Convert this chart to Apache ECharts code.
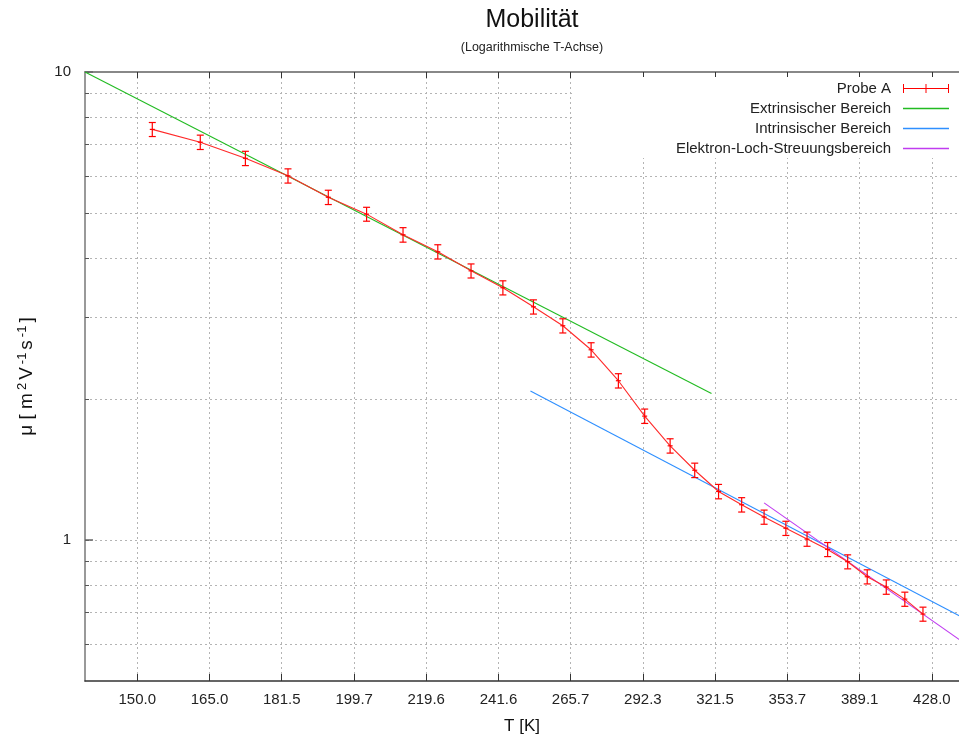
<!DOCTYPE html>
<html>
<head>
<meta charset="utf-8">
<title>Mobilität</title>
<script src="https://cdn.jsdelivr.net/npm/echarts@6/dist/echarts.min.js"></script>
<style>
  html, body { margin: 0; padding: 0; background: #fff; overflow: hidden; }
  #chart { width: 959px; height: 740px; }
</style>
</head>
<body>
<div id="chart"></div>
<script>
// Temperatur der Messpunkte [K]
const temperatures = [153, 163, 173, 183, 193, 203, 213, 223, 233, 243,
                      253, 263, 273, 283, 293, 303, 313, 323, 333, 343,
                      353, 363, 373, 383, 393, 403, 413, 423];
// Beweglichkeit Probe A [m^2 V^-1 s^-1]
const mobility = [7.54, 7.08, 6.54, 6.00, 5.40, 4.97, 4.49, 4.13, 3.76, 3.46,
                  3.15, 2.87, 2.55, 2.19, 1.84, 1.59, 1.41, 1.27, 1.19, 1.12,
                  1.06, 1.005, 0.955, 0.899, 0.835, 0.794, 0.748, 0.695];
// Fehler der Beweglichkeit
const mobilityErr = [0.26, 0.25, 0.23, 0.21, 0.19, 0.17, 0.16, 0.145, 0.13, 0.12,
                     0.11, 0.10, 0.09, 0.077, 0.065, 0.056, 0.05, 0.045, 0.042, 0.039,
                     0.037, 0.035, 0.033, 0.031, 0.029, 0.028, 0.026, 0.024];
// Angepasste Geraden (Potenzgesetze) als Endpunkte [T, mu]
const extrinsicFit = [[140, 10], [320, 2.056]];
const intrinsicFit = [[252, 2.082], [450, 0.671]];
const scatteringFit = [[343, 1.201], [450, 0.591]];
// Achsenbeschriftung
const xTicks = [150.0, 165.0, 181.5, 199.7, 219.6, 241.6, 265.7, 292.3, 321.5, 353.7, 389.1, 428.0];
const yGridTicks = [0.6, 0.7, 0.8, 0.9, 1, 2, 3, 4, 5, 6, 7, 8, 9, 10];
const yLabelTicks = [1, 10];

const X_MIN = 140, X_MAX = 443.6, Y_MIN = 0.5, Y_MAX = 10;
const FONT = '"Liberation Sans", Arial, sans-serif';
const RED = '#ff0000';

const sampleLine = temperatures.map((t, i) => [t, mobility[i]]);
const sampleErr = temperatures.map((t, i) => [t, mobility[i], mobilityErr[i]]);

function renderErrorBar(params, api) {
  const t = api.value(0), m = api.value(1), e = api.value(2);
  const top = api.coord([t, m + e]);
  const bot = api.coord([t, m - e]);
  const mid = api.coord([t, m]);
  const cap = 3.5, tick = 2.5;
  const style = { stroke: RED, lineWidth: 1.2 };
  const seg = (x1, y1, x2, y2) => ({ type: 'line', shape: { x1, y1, x2, y2 }, style });
  return {
    type: 'group',
    children: [
      seg(top[0], top[1], bot[0], bot[1]),
      seg(top[0] - cap, top[1], top[0] + cap, top[1]),
      seg(bot[0] - cap, bot[1], bot[0] + cap, bot[1]),
      seg(mid[0] - tick, mid[1], mid[0] + tick, mid[1])
    ]
  };
}

const chart = echarts.init(document.getElementById('chart'), null, { renderer: 'canvas', width: 959, height: 740 });

const option = {
  backgroundColor: '#ffffff',
  animation: false,
  textStyle: { fontFamily: FONT },
  title: {
    text: 'Mobilität',
    subtext: '(Logarithmische T-Achse)',
    left: 527,
    top: 3,
    textAlign: 'center',
    itemGap: 8,
    textStyle: { fontSize: 25, fontWeight: 'normal', color: '#111', fontFamily: FONT },
    subtextStyle: { fontSize: 12.5, color: '#222', fontFamily: FONT }
  },
  legend: {
    orient: 'vertical',
    right: 0,
    top: 77,
    align: 'right',
    itemWidth: 46,
    itemHeight: 9,
    itemGap: 5,
    padding: [4, 10, 2, 102],
    backgroundColor: '#ffffff',
    textStyle: { fontSize: 15, color: '#222', fontFamily: FONT, lineHeight: 14, padding: [0, 7, 0, 0] },
    data: [
      { name: 'Probe A', icon: 'path://M0,0h1v9h-1z M22.5,0h1v9h-1z M45,0h1v9h-1z M0,4h46v1h-46z' },
      { name: 'Extrinsischer Bereich', icon: 'path://M0,0h46v1.4h-46z' },
      { name: 'Intrinsischer Bereich', icon: 'path://M0,0h46v1.4h-46z' },
      { name: 'Elektron-Loch-Streuungsbereich', icon: 'path://M0,0h46v1.4h-46z' }
    ]
  },
  grid: { left: 85, right: 0, top: 72, height: 609, containLabel: false },
  xAxis: [
    {
      type: 'log', logBase: 10, min: X_MIN, max: X_MAX, position: 'bottom',
      name: 'T [K]', nameLocation: 'middle', nameGap: 37,
      nameTextStyle: { fontSize: 17, color: '#111', fontFamily: FONT },
      axisLine: { show: true, onZero: false, lineStyle: { color: '#333', width: 1.5 } },
      axisTick: { show: true, inside: true, length: 7, customValues: xTicks, lineStyle: { color: '#333', width: 1 } },
      axisLabel: {
        show: true, margin: 11, fontSize: 15, color: '#222', fontFamily: FONT,
        customValues: xTicks,
        formatter: v => Number(v).toFixed(1)
      },
      splitLine: { show: true, lineStyle: { color: '#b4b4b4', type: [2, 3], width: 1 } },
      minorTick: { show: false }
    },
    {
      type: 'log', logBase: 10, min: X_MIN, max: X_MAX, position: 'top',
      axisLine: { show: true, onZero: false, lineStyle: { color: '#888', width: 2 } },
      axisTick: { show: true, inside: true, length: 6, customValues: xTicks, lineStyle: { color: '#333', width: 1 } },
      axisLabel: { show: false },
      splitLine: { show: false }
    }
  ],
  yAxis: [
    {
      type: 'log', logBase: 10, min: Y_MIN, max: Y_MAX, position: 'left',
      name: '{t|μ [ m}{s|2}{t|V}{s|-1}{t|s}{s|-1}{t|]}',
      nameLocation: 'middle', nameGap: 47,
      nameTextStyle: {
        fontFamily: FONT, color: '#111',
        rich: {
          t: { fontSize: 19, fontFamily: FONT, color: '#111', padding: [0, 1, 0, 1] },
          s: { fontSize: 13, fontFamily: FONT, color: '#111', verticalAlign: 'top', padding: [0, 2, 9, 2] }
        }
      },
      axisLine: { show: true, onZero: false, lineStyle: { color: '#777', width: 1.5 } },
      axisTick: { show: true, inside: true, length: 4, customValues: yGridTicks, lineStyle: { color: '#555', width: 1 } },
      axisLabel: {
        show: true, margin: 14, fontSize: 15, color: '#222', fontFamily: FONT,
        customValues: yLabelTicks,
        formatter: v => String(Math.round(v))
      },
      splitLine: { show: true, lineStyle: { color: '#b4b4b4', type: [2, 3], width: 1 } },
      minorTick: { show: false }
    },
    {
      type: 'log', logBase: 10, min: Y_MIN, max: Y_MAX, position: 'left', offset: 0,
      axisLine: { show: false },
      axisTick: { show: true, inside: true, length: 8, customValues: yLabelTicks, lineStyle: { color: '#666', width: 1.5 } },
      axisLabel: { show: false },
      splitLine: { show: false }
    }
  ],
  series: [
    {
      name: 'Probe A', type: 'line', data: sampleLine,
      xAxisIndex: 0, yAxisIndex: 0,
      showSymbol: false, symbol: 'none', z: 4,
      color: RED,
      lineStyle: { color: '#ff2a2a', width: 1.1 }
    },
    {
      name: 'Probe A', type: 'custom', data: sampleErr,
      xAxisIndex: 0, yAxisIndex: 0,
      encode: { x: 0, y: 1 }, z: 5,
      color: RED,
      renderItem: renderErrorBar
    },
    {
      name: 'Extrinsischer Bereich', type: 'line', data: extrinsicFit,
      showSymbol: false, symbol: 'none', z: 3, color: '#22bb22',
      lineStyle: { color: '#22bb22', width: 1.1 }
    },
    {
      name: 'Intrinsischer Bereich', type: 'line', data: intrinsicFit,
      showSymbol: false, symbol: 'none', z: 3, color: '#2e8fff',
      lineStyle: { color: '#2e8fff', width: 1.1 }
    },
    {
      name: 'Elektron-Loch-Streuungsbereich', type: 'line', data: scatteringFit,
      showSymbol: false, symbol: 'none', z: 3, color: '#c03cf0',
      lineStyle: { color: '#c03cf0', width: 1.1 }
    }
  ]
};

chart.setOption(option);
</script>
</body>
</html>
